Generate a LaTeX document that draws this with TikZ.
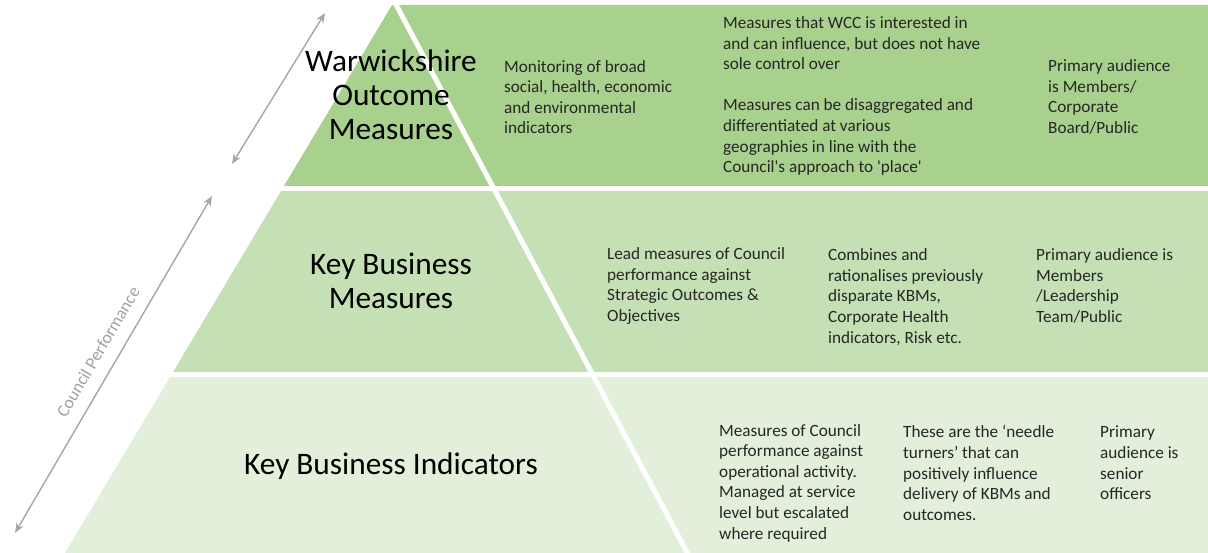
\documentclass[tikz,border=0pt]{standalone}
\usepackage{fontspec}
\setmainfont{Carlito}
\usetikzlibrary{arrows.meta}
\definecolor{tierA}{HTML}{A9D18E}
\definecolor{tierB}{HTML}{C5E0B4}
\definecolor{tierC}{HTML}{E2EFDA}
\definecolor{arrowgray}{HTML}{A6A6A6}
\definecolor{labelgray}{HTML}{A0A0A0}
\definecolor{bodytext}{HTML}{262626}
\begin{document}
\begin{tikzpicture}[x=1pt,y=-1pt,
  tiertitle/.style={align=center,font=\fontsize{31.3}{34}\selectfont,text=black,inner sep=0pt},
  note/.style={align=left,anchor=west,font=\fontsize{17.2}{20.6}\selectfont,text=bodytext,inner sep=0pt},
  span/.style={draw=arrowgray,line width=1.4pt,{Stealth[length=10pt,width=8pt]}-{Stealth[length=10pt,width=8pt]}},
  gap/.style={draw=white,line width=5pt}]
\useasboundingbox (0,0) rectangle (1208,553);

% the three tiers, each running from the pyramid's left flank to the right edge
\fill[tierA] (392,5) -- (1208,5) -- (1208,186) -- (284,186) -- cycle;
\fill[tierB] (281,191) -- (1208,191) -- (1208,372) -- (173,372) -- cycle;
\fill[tierC] (170,377) -- (1208,377) -- (1208,553) -- (65,553) -- cycle;

% white right flank of the pyramid
\coordinate (ridgeTop) at (392,-3);
\coordinate (ridgeBase) at (689,556);
\draw[gap] (ridgeTop) -- (ridgeBase);

% tier titles
\node[tiertitle] (wom) at (391,95) {Warwickshire\\Outcome\\Measures};
\node[tiertitle] (kbm) at (391,281) {Key Business\\Measures};
\node[tiertitle] (kbi) at (391,466) {Key Business Indicators};

% top tier notes
\node[note] (womA) at (504,97) {Monitoring of broad\\social, health, economic\\and environmental\\indicators};
\node[note] (womB) at (723,96) {Measures that WCC is interested in\\and can influence, but does not have\\sole control over\\[20.6pt]Measures can be disaggregated and\\differentiated at various\\geographies in line with the\\Council\textquotesingle s approach to \textquotesingle place\textquotesingle};
\node[note] (womC) at (1048,97) {Primary audience\\is Members/\\Corporate\\Board/Public};

% middle tier notes
\node[note] (kbmA) at (607,286) {Lead measures of Council\\performance against\\Strategic Outcomes \&\\Objectives};
\node[note] (kbmB) at (828,297) {Combines and\\rationalises previously\\disparate KBMs,\\Corporate Health\\indicators, Risk etc.};
\node[note] (kbmC) at (1036,286) {Primary audience is\\Members\\/Leadership\\Team/Public};

% bottom tier notes
\node[note] (kbiA) at (719,483) {Measures of Council\\performance against\\operational activity.\\Managed at service\\level but escalated\\where required};
\node[note] (kbiB) at (903,473) {These are the ‘needle\\turners’ that can\\positively influence\\delivery of KBMs and\\outcomes.};
\node[note] (kbiC) at (1100,463) {Primary\\audience is\\senior\\officers};

% council performance span arrows
\coordinate (upHi) at (325,13);
\coordinate (upLo) at (232,164);
\draw[span] (upLo) -- (upHi);
\coordinate (loHi) at (212,196);
\coordinate (loLo) at (15,533);
\draw[span] (loLo) -- (loHi);
\node[rotate=59.7,font=\fontsize{17.5}{19}\selectfont,text=labelgray,inner sep=0pt] (perf) at (98,352) {Council Performance};
\end{tikzpicture}
\end{document}
